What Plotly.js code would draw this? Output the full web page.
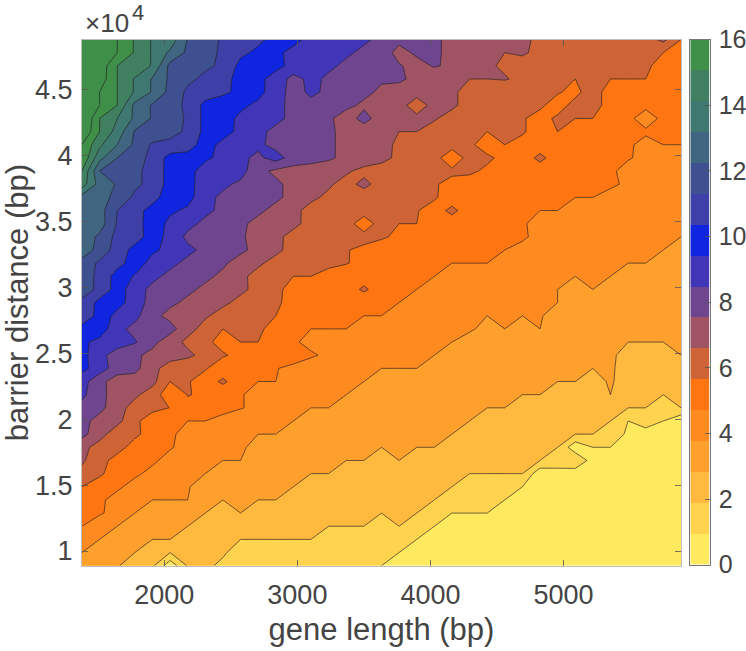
<!DOCTYPE html>
<html>
<head>
<meta charset="utf-8">
<script src="https://cdn.plot.ly/plotly-3.0.1.min.js"></script>
<style>html,body{margin:0;padding:0;background:#fff}</style>
</head>
<body>
<div id="chart" style="width:746px;height:651px"></div>
<script>
const geneLength = [1382,1514,1647,1779,1911,2044,2176,2308,2441,2573,2705,2838,2970,3102,3235,3367,3500,3632,3764,3897,4029,4161,4294,4426,4558,4691,4823,4955,5088,5220,5352,5485,5617,5749,5882];
const barrierDistance = [8885,9883,10880,11878,12875,13873,14870,15868,16865,17863,18860,19858,20855,21853,22850,23848,24845,25843,26840,27838,28835,29833,30830,31828,32825,33823,34820,35818,36815,37813,38810,39808,40805,41803,42800,43798,44795,45793,46790,47788,48785];
const surface = [
[3.6,3.3,3.05,2.7,2.2,.33,2.1,2.05,1.95,1.85,1.75,1.65,1.55,1.45,1.35,1.25,1.1,1.0,.9,.85,.8,.75,.7,.65,.6,.55,.5,.47,.44,.4,.37,.34,.31,.28,.25],
[4.0,3.7,3.35,3.0,2.75,2.0,2.45,2.2,2.03,1.9,1.8,1.7,1.6,1.5,1.4,1.3,1.2,1.1,1.0,.9,.85,.8,.75,.7,.65,.6,.55,.5,.47,.44,.41,.38,.35,.32,.3],
[4.5,4.0,3.7,3.35,3.0,3.0,2.7,2.45,2.2,2.0,2.0,2.0,2.0,2.0,1.8,1.65,1.5,1.3,1.15,1.0,.9,.85,.8,.75,.7,.65,.6,.57,.53,.5,.47,.44,.41,.38,.35],
[5.0,4.5,4.0,3.7,3.5,3.25,3.0,2.8,2.6,2.5,2.4,2.3,2.2,2.1,2.0,2.0,2.0,1.7,2.0,1.5,1.0,.9,.95,1.0,.85,.8,.75,.7,.66,.62,.58,.54,.5,.47,.44],
[5.5,5.1,4.7,4.0,3.8,3.6,3.3,3.0,2.8,3.0,2.8,2.7,2.6,2.5,2.4,2.3,2.15,2.0,2.3,2.0,1.6,1.0,1.0,1.0,.9,.85,.8,.76,.72,.68,.64,.6,.56,.53,.5],
[5.8,5.1,4.8,4.4,4.0,4.0,4.0,3.5,3.0,3.3,3.0,3.0,3.0,2.8,2.65,2.5,2.4,2.3,2.2,2.1,2.0,2.0,1.7,1.4,1.0,1.0,.9,.86,.82,.78,.74,.7,.66,.62,.58],
[6.0,5.7,5.1,4.8,4.6,4.35,4.05,3.7,3.6,3.5,3.35,3.2,3.0,2.9,2.8,2.7,2.6,2.5,2.4,2.3,2.15,2.0,1.8,1.6,1.3,1.0,.95,.9,.87,.84,.8,.76,.72,.68,.64],
[6.6,6.1,5.7,5.1,4.85,4.6,4.3,4.0,3.8,3.7,3.6,3.45,3.3,3.0,3.0,2.8,2.7,2.6,2.5,2.4,2.3,2.15,2.0,2.0,2.0,2.0,.3,.3,.35,.9,.9,.85,.8,.76,.72],
[7.2,6.2,5.8,5.5,5.1,4.8,4.5,4.2,4.0,4.0,3.8,3.7,3.6,3.4,3.2,3.0,3.0,2.7,3.0,2.8,2.7,2.6,2.5,2.4,2.3,2.15,2.0,2.0,2.0,.5,.9,.9,.86,.82,.78],
[7.3,6.6,6.2,5.8,5.4,5.05,4.8,4.6,4.4,4.05,3.9,3.8,3.7,3.6,3.45,3.3,3.15,3.0,3.4,3.0,3.0,3.0,2.8,2.7,2.6,2.4,2.2,2.0,.3,1.0,1.0,.95,.9,.88,.85],
[8.3,7.4,6.4,6.1,5.8,5.1,4.8,4.7,4.5,4.25,4.0,4.0,4.0,3.85,3.7,3.6,3.5,3.4,3.3,3.2,3.1,3.0,2.9,2.8,2.7,2.55,2.4,2.2,2.0,2.0,2.0,.7,.1,.5,.6],
[8.35,7.6,7.3,6.25,5.4,5.2,5.0,5.0,4.75,4.5,4.35,4.15,4.0,3.85,3.75,3.65,3.55,3.45,3.35,3.25,3.15,3.05,3.0,2.8,2.7,2.6,2.5,2.4,2.3,2.15,2.0,1.0,2.0,1.0,.15],
[8.7,8.3,7.4,6.6,6.3,5.98,5.8,5.6,5.25,5.05,4.8,4.6,4.3,4.0,4.0,3.85,3.75,3.65,3.55,3.45,3.35,3.25,3.1,3.0,3.0,2.8,2.7,2.6,2.5,2.4,2.25,2.0,2.0,1.7,2.0],
[9.2,8.4,7.4,7.2,6.5,5.4,6.03,5.9,5.3,5.05,4.8,4.6,4.4,4.2,4.1,4.0,3.85,3.75,3.65,3.55,3.45,3.35,3.2,3.1,3.05,3.0,3.0,2.8,3.0,2.7,3.0,2.6,2.4,2.0,2.2],
[9.4,8.3,7.5,7.5,7.3,6.0,6.1,5.45,6.2,5.35,5.0,5.0,4.8,4.6,4.4,4.2,4.0,3.85,3.75,3.65,3.55,3.45,3.35,3.25,3.15,3.1,3.05,3.0,3.0,2.85,3.05,2.8,2.6,2.4,2.3],
[10.3,9.5,8.5,8.3,7.3,6.55,6.3,6.1,5.4,5.3,5.2,5.03,4.85,4.6,4.4,4.25,4.1,4.0,4.0,4.0,3.85,3.7,3.6,3.5,3.4,3.3,3.25,3.15,3.1,3.0,3.1,2.7,2.7,2.6,2.5],
[10.3,9.4,8.4,8.2,7.7,7.4,7.2,6.7,6.1,5.75,5.6,5.5,5.3,5.1,4.85,4.6,4.4,4.3,4.2,4.1,4.0,3.85,3.7,3.6,3.5,3.4,3.35,3.25,3.2,3.1,3.1,2.8,2.8,2.9,3.0],
[10.2,9.7,9.6,9.1,8.3,7.4,6.8,6.2,5.7,6.0,6.0,5.7,5.1,4.8,4.75,4.7,4.6,4.5,4.35,4.2,4.1,4.0,3.85,3.7,3.6,3.55,3.45,3.4,3.3,3.2,3.3,3.0,3.0,3.0,3.15],
[10.8,10.6,9.3,8.7,8.5,8.4,7.3,6.7,6.0,6.3,6.1,5.8,5.4,5.0,5.0,5.0,4.8,4.7,4.6,4.5,4.35,4.2,4.05,3.9,4.0,3.9,4.0,3.8,3.7,3.6,3.55,3.5,3.45,3.4,3.3],
[11.4,10.8,9.6,9.3,8.3,7.7,7.4,7.1,6.7,6.5,6.3,6.0,5.7,5.5,5.3,5.1,5.0,5.0,4.8,4.6,4.5,4.35,4.15,4.0,4.2,4.0,4.03,3.85,3.8,3.75,3.7,3.65,3.6,3.55,3.5],
[11.7,10.7,10.5,9.4,8.7,8.2,7.8,7.5,7.15,6.8,6.5,6.1,5.8,5.55,5.4,5.3,5.2,5.1,5.0,4.8,4.7,4.6,4.45,4.3,4.25,4.2,4.1,4.0,3.9,3.85,3.8,3.75,3.7,3.65,3.6],
[12.6,11.7,10.6,9.35,8.8,8.5,8.2,7.8,7.5,7.15,6.8,6.2,5.7,5.6,5.5,5.45,6.2,5.4,5.2,5.0,4.85,4.7,4.6,4.5,4.45,4.35,4.2,4.0,3.9,4.0,3.95,3.9,3.85,3.8,3.75],
[12.6,11.7,10.6,9.9,9.2,8.8,8.5,8.2,7.8,7.2,6.7,6.4,6.0,6.0,5.85,5.7,5.5,5.45,5.3,5.15,5.0,4.9,4.8,4.7,4.6,4.55,4.5,4.3,4.0,4.3,4.0,3.9,3.85,3.85,3.8],
[12.7,11.8,11.3,10.6,9.6,9.2,8.8,8.5,8.15,7.6,7.15,6.7,6.4,6.2,6.1,6.03,5.85,5.7,5.5,5.3,5.1,5.0,5.0,5.0,4.85,4.75,4.7,4.6,4.5,4.35,4.15,4.0,4.0,3.95,3.9],
[13.5,12.7,11.5,10.7,10.2,9.7,9.2,8.8,8.5,8.2,7.7,7.2,6.7,6.45,6.25,6.05,5.8,5.6,5.45,5.35,5.25,5.2,5.15,5.1,5.0,4.9,4.8,4.7,4.65,4.5,4.35,4.2,4.1,4.0,3.95],
[13.6,12.8,11.7,11.4,10.6,9.6,8.8,8.6,8.4,8.15,7.6,7.15,6.8,6.7,6.5,6.35,6.3,6.1,5.85,5.7,5.6,5.5,5.4,5.3,5.2,5.05,4.9,4.8,4.75,4.6,4.5,4.4,4.3,4.15,4.0],
[13.9,13.5,11.9,11.25,10.7,9.7,9.25,8.8,8.5,8.2,7.7,7.5,7.15,6.8,6.6,6.4,5.5,6.4,6.0,6.0,5.8,5.6,5.6,5.5,5.3,5.05,4.85,4.8,4.75,4.7,4.6,4.55,4.5,4.4,4.25],
[13.9,13.4,12.0,11.2,10.8,10.2,9.8,9.2,8.8,8.5,8.2,7.7,7.2,6.75,6.65,6.5,6.4,6.3,6.2,6.05,5.65,6.2,5.6,5.6,5.5,5.3,5.0,5.0,4.9,4.85,4.8,4.7,4.6,4.5,4.4],
[13.6,13.4,12.7,11.8,11.2,10.7,10.4,9.3,8.8,8.6,8.4,8.2,7.7,7.15,6.85,6.7,6.6,6.5,6.4,6.3,6.1,5.6,5.7,5.65,5.6,5.5,5.4,5.2,5.0,5.0,4.9,4.85,4.8,4.7,4.6],
[15.5,13.6,12.9,12.2,11.7,10.6,10.2,9.7,9.2,8.8,8.6,8.2,7.7,7.4,7.1,6.75,7.2,6.7,6.6,6.5,6.1,5.7,5.75,5.8,5.75,5.7,5.6,5.5,5.4,5.2,5.05,4.95,4.9,4.85,4.8],
[16.0,13.0,12.6,12.2,11.7,10.6,10.2,9.75,9.6,9.4,8.3,7.8,7.6,7.5,7.4,7.1,6.8,6.7,6.6,6.4,6.2,6.2,6.1,5.9,5.85,5.8,5.7,5.7,5.6,5.5,5.1,4.8,4.85,4.9,4.9],
[16.9,14.3,13.0,12.4,11.75,10.6,10.4,10.1,9.85,9.2,8.8,9.4,8.6,8.4,8.15,7.75,7.4,7.2,6.85,6.7,6.4,5.3,6.4,6.1,5.85,5.7,6.15,5.7,5.65,5.6,5.5,5.05,4.85,4.85,4.85],
[17.0,15.2,14.0,12.8,11.85,11.75,11.7,10.3,9.8,9.5,9.2,8.7,8.6,8.5,8.15,7.75,7.5,7.25,6.85,6.8,6.6,6.4,6.1,5.75,6.0,5.85,5.7,5.7,5.65,5.6,5.5,5.1,4.8,5.0,5.0],
[18.0,16.0,14.6,12.9,12.7,12.3,11.85,10.7,10.3,9.8,9.2,8.8,8.6,8.5,8.15,7.75,7.55,7.3,7.0,7.0,6.8,6.6,6.3,6.0,6.2,6.05,5.8,6.0,5.8,5.7,5.6,5.3,5.1,5.2,5.2],
[18.3,16.0,15.0,13.8,12.9,12.35,11.9,10.7,10.4,9.8,9.6,9.2,8.8,8.6,8.15,7.6,8.3,7.6,7.5,7.3,7.05,6.8,6.7,6.5,6.3,6.05,5.8,6.1,6.0,6.0,5.5,5.15,4.7,5.15,5.3],
[18.5,17.0,16.0,13.7,12.9,12.3,11.85,10.7,10.55,10.2,9.8,9.2,8.8,8.7,8.5,8.2,7.85,7.75,7.45,6.4,7.4,7.1,6.8,6.6,6.4,6.2,6.1,5.75,6.2,6.2,5.8,5.5,5.15,5.3,5.3],
[18.7,17.0,16.0,14.9,13.9,12.7,11.8,11.5,11.15,10.8,10.3,9.5,8.6,9.2,8.8,8.5,8.2,7.85,7.75,7.45,7.4,7.1,6.8,6.7,6.5,6.4,6.3,6.05,5.85,6.3,5.7,5.6,5.5,5.4,5.4],
[18.6,17.6,16.0,14.9,13.9,12.8,12.2,11.8,11.15,10.85,10.2,9.7,8.6,9.3,8.8,8.6,8.4,8.1,8.1,7.85,7.6,7.3,7.0,7.0,7.05,6.85,6.7,6.4,6.0,6.3,6.0,6.0,6.0,5.7,5.6],
[19.3,17.7,16.0,15.8,14.9,12.7,12.5,12.15,11.85,10.7,10.4,10.2,9.8,9.5,9.2,8.8,8.6,8.4,8.05,7.8,8.05,7.9,7.6,7.1,6.9,6.85,6.8,6.7,6.6,6.5,6.4,6.3,6.1,5.8,5.7],
[19.5,18.0,17.0,15.9,14.9,13.8,12.8,12.2,11.9,11.2,10.8,10.15,9.8,9.6,9.4,9.15,8.8,8.3,7.8,8.1,8.1,7.85,7.7,7.5,7.0,7.05,6.9,6.85,6.8,6.7,6.6,6.5,6.3,6.0,5.85],
[20.0,18.5,17.0,15.9,14.9,14.6,12.95,12.3,11.9,11.5,11.2,10.7,10.2,9.8,9.6,9.4,9.15,8.8,8.15,8.2,8.1,7.85,7.75,7.6,7.4,7.15,6.85,6.8,6.7,6.6,6.5,6.4,6.6,7.25,6.0]
];
const bandColors = ['#FFE95F','#FFD34E','#FFB93E','#FFA02D','#FF8A20','#FF7512','#CE6335','#A05363','#70458F','#4135B8','#0F25E0','#3F3FA8','#3F5090','#3F6580','#3F7870','#408060','#3F8F48'];
const xTicks = [2000,3000,4000,5000];
const yTicks = [10000,15000,20000,25000,30000,35000,40000,45000];
const yTickText = ['1','1.5','2','2.5','3','3.5','4','4.5'];
const barTicks = [0,2,4,6,8,10,12,14,16];

const W = 746, H = 651;
const px = v => v / W, py = v => 1 - v / H;
const textColor = '#444444', frame = '#bdbdbd';

const contourColors = bandColors.concat([bandColors[bandColors.length - 1]]);
const contourScale = contourColors.map((c, i) => [i / (contourColors.length - 1), c]);

const n = bandColors.length;
const barEdges = Array.from({length: n + 1}, (_, i) => i * 16 / n);
const barZ = bandColors.map((_, i) => [i]);
const barScale = [];
bandColors.forEach((c, i) => { barScale.push([i / n, c]); barScale.push([(i + 1) / n, c]); });

const traces = [{
  type: 'contour', x: geneLength, y: barrierDistance, z: surface,
  autocontour: false,
  contours: {start: 1, end: 17, size: 1, coloring: 'fill', showlines: true},
  line: {color: 'rgba(35,35,35,0.75)', width: 0.9, smoothing: 0},
  colorscale: contourScale, showscale: false, hoverinfo: 'skip'
}, {
  type: 'heatmap', x: [0, 1], y: barEdges, z: barZ, xaxis: 'x2', yaxis: 'y2',
  colorscale: barScale, zmin: 0, zmax: n - 1 + 1e-9, showscale: false, hoverinfo: 'skip', zsmooth: false
}];

const layout = {
  width: W, height: H, paper_bgcolor: '#fff', plot_bgcolor: '#fff',
  margin: {l: 0, r: 0, t: 0, b: 0}, showlegend: false,
  font: {family: '"Liberation Sans", Arial, sans-serif', color: textColor, size: 27},
  xaxis: {
    domain: [px(82), px(681)], range: [1382, 5882], anchor: 'y',
    tickmode: 'array', tickvals: xTicks, ticktext: xTicks.map(String),
    ticks: 'inside', ticklen: 6, tickwidth: 0.8, tickcolor: '#555',
    showgrid: false, zeroline: false, showline: true, linecolor: frame, linewidth: 1, mirror: 'allticks',
    tickfont: {size: 27, color: textColor}, ticklabelstandoff: 5,
    title: {text: 'gene length (bp)', font: {size: 31, color: textColor}, standoff: 9}
  },
  yaxis: {
    domain: [py(565.7), py(39.5)], range: [8885, 48785], anchor: 'x',
    tickmode: 'array', tickvals: yTicks, ticktext: yTickText,
    ticks: 'inside', ticklen: 6, tickwidth: 0.8, tickcolor: '#555',
    showgrid: false, zeroline: false, showline: true, linecolor: frame, linewidth: 1, mirror: 'allticks',
    tickfont: {size: 27, color: textColor}, ticklabelstandoff: 3,
    title: {text: 'barrier distance (bp)', font: {size: 31, color: textColor}, standoff: 6}
  },
  xaxis2: {
    domain: [px(690.3), px(709.7)], range: [0, 1], anchor: 'y2',
    showticklabels: false, ticks: '', showgrid: false, zeroline: false,
    showline: true, linecolor: '#777', linewidth: 1, mirror: true
  },
  yaxis2: {
    domain: [py(564.7), py(39.5)], range: [0, 16], anchor: 'x2', side: 'right',
    tickmode: 'array', tickvals: barTicks, ticktext: barTicks.map(String),
    ticks: 'inside', ticklen: 5, tickwidth: 0.8, tickcolor: '#555',
    showgrid: false, zeroline: false, showline: true, linecolor: '#777', linewidth: 1, mirror: true,
    tickfont: {size: 25, color: textColor}, ticklabelstandoff: 3
  },
  annotations: [{
    xref: 'paper', yref: 'paper', x: px(83), y: py(40), xanchor: 'left', yanchor: 'bottom',
    text: '×10', showarrow: false, font: {size: 26, color: textColor}
  }, {
    xref: 'paper', yref: 'paper', x: px(130), y: py(27), xanchor: 'left', yanchor: 'bottom',
    text: '4', showarrow: false, font: {size: 22, color: textColor}
  }]
};

Plotly.newPlot('chart', traces, layout, {displayModeBar: false, staticPlot: true});
</script>
</body>
</html>
